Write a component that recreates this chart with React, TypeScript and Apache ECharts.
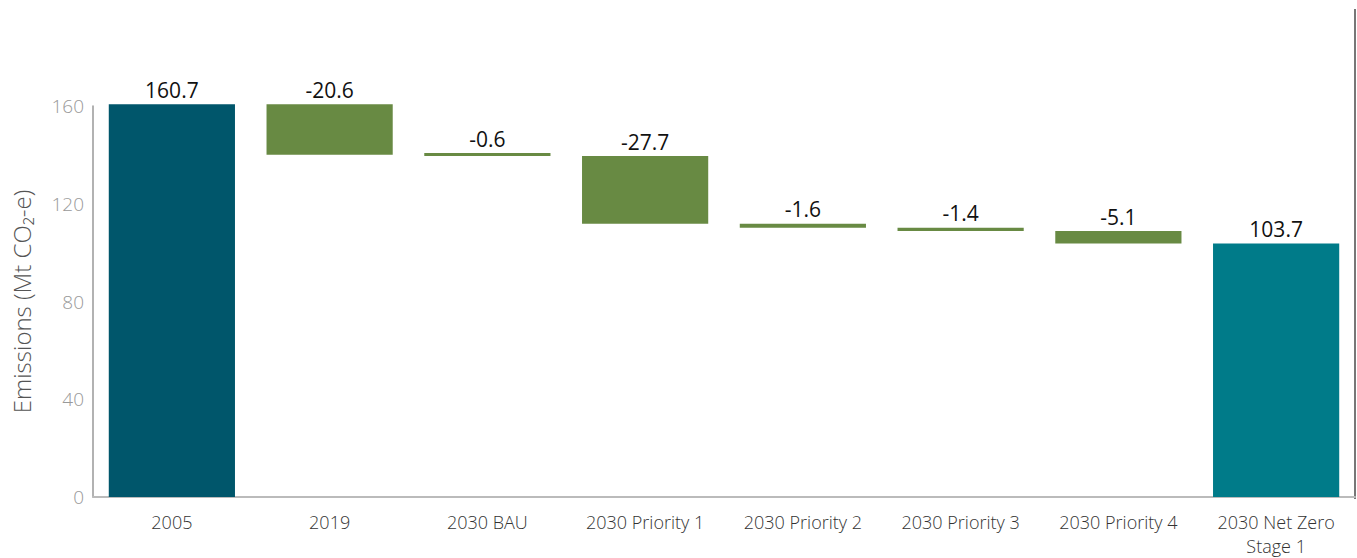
import React, { useEffect, useRef } from "react";
import * as echarts from "echarts";

const categories = [
  "2005",
  "2019",
  "2030 BAU",
  "2030 Priority 1",
  "2030 Priority 2",
  "2030 Priority 3",
  "2030 Priority 4",
  "2030 Net Zero\nStage 1",
];
// change values shown on the waterfall (first & last are totals)
const changes = [160.7, -20.6, -0.6, -27.7, -1.6, -1.4, -5.1, 103.7];
const isTotal = [true, false, false, false, false, false, false, true];
const yTicks = [0, 40, 80, 120, 160];

const totalColors: Record<number, string> = { 0: "#00566B", 7: "#007B89" };
const stepColor = "#688A43";

export default function App() {
  const ref = useRef<HTMLDivElement>(null);
  useEffect(() => {
    document.body.style.margin = "0";
    if (!ref.current) return;
    const chart = echarts.init(ref.current, undefined, { renderer: "svg" });

    // derive base (invisible) and visible heights
    const base: number[] = [];
    const vis: number[] = [];
    let running = 0;
    changes.forEach((c, i) => {
      if (isTotal[i]) {
        base.push(0);
        vis.push(Math.abs(c));
        running = c;
      } else {
        const next = running + c;
        base.push(Math.min(running, next));
        vis.push(Math.abs(c));
        running = next;
      }
    });

    const font = "'Open Sans', sans-serif";
    chart.setOption({
      animation: false,
      grid: { left: 93, right: 2, top: 106, bottom: 59 },
      xAxis: {
        type: "category",
        data: categories,
        axisTick: { show: false },
        axisLine: { lineStyle: { color: "#BBBBBB", width: 2 } },
        axisLabel: {
          color: "#333333",
          fontSize: 18,
          fontWeight: 300,
          fontFamily: font,
          margin: 13,
          lineHeight: 24,
          interval: 0,
        },
      },
      yAxis: {
        type: "value",
        min: yTicks[0],
        max: yTicks[yTicks.length - 1],
        interval: 40,
        name: "Emissions (Mt CO₂-e)",
        nameLocation: "middle",
        nameGap: 60,
        nameTextStyle: { color: "#555555", fontSize: 24, fontWeight: 300, fontFamily: font },
        splitLine: { show: false },
        axisTick: { show: false },
        axisLine: { show: true, lineStyle: { color: "#999999", width: 1.5 } },
        axisLabel: {
          color: "#999999",
          fontSize: 19,
          fontWeight: 300,
          fontFamily: font,
          margin: 9,
        },
      },
      series: [
        {
          type: "bar",
          stack: "w",
          data: base,
          itemStyle: { color: "transparent" },
          barCategoryGap: "20%",
          silent: true,
        },
        {
          type: "bar",
          stack: "w",
          clip: false,
          barCategoryGap: "20%",
          barMinHeight: 3,
          data: vis.map((v, i) => ({
            value: v,
            itemStyle: { color: isTotal[i] ? totalColors[i] : stepColor },
          })),
          label: {
            show: true,
            position: "top",
            distance: 4,
            color: "#111111",
            fontSize: 21,
            fontFamily: font,
            formatter: (p: any) => changes[p.dataIndex].toFixed(1),
          },
        },
      ],
      graphic: [
        {
          type: "line",
          shape: { x1: 1355, y1: 9, x2: 1355, y2: 499 },
          style: { stroke: "#777777", lineWidth: 2 },
        },
      ],
    });
    return () => chart.dispose();
  }, []);
  return <div ref={ref} style={{ width: 1357, height: 558 }} />;
}
